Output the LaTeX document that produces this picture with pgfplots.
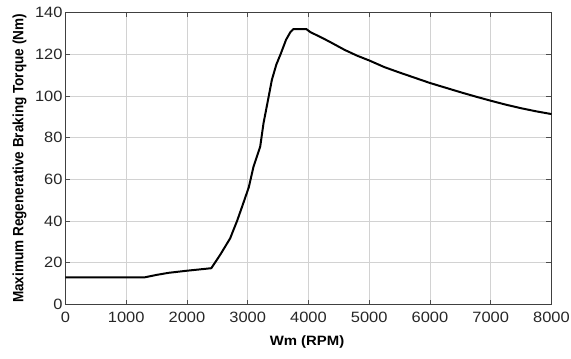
\documentclass[border=0pt]{standalone}
\usepackage{pgfplots}
\pgfplotsset{compat=1.18}
\usepackage{fontspec}
\setmainfont{Liberation Sans}
\newcommand{\wide}[1]{\scalebox{1.1}[1]{#1}}
\begin{document}
\begin{tikzpicture}
\useasboundingbox (-65.5bp,-54.5bp) rectangle (505.5bp,304.5bp);
\begin{axis}[
  at={(0,0)}, anchor=south west,
  scale only axis,
  width=486bp, height=292bp,
  xmin=0, xmax=8000, ymin=0, ymax=140,
  xtick={0,1000,...,8000}, ytick={0,20,...,140},
  scaled x ticks=false,
  xticklabel={\wide{\pgfmathprintnumber[1000 sep={},assume math mode=true]{\tick}}},
  yticklabel={\wide{\pgfmathprintnumber[assume math mode=true]{\tick}}},
  xticklabel style={yshift=-4bp},
  yticklabel style={xshift=0.5bp},
  tick label style={font=\fontsize{15}{17}\selectfont, text=black!85},
  grid=major,
  major grid style={gray!35, line width=0.6pt},
  tick align=inside,
  major tick length=5bp,
  tick style={black!70, line width=0.6pt},
  axis line style={black!75, line width=0.8pt},
  xlabel={\wide{\bfseries Wm (RPM)}},
  ylabel={\scalebox{1}[1.1]{\bfseries Maximum Regenerative Braking Torque (Nm)}},
  label style={font=\fontsize{13.6}{15}\selectfont\bfseries},
  xlabel style={at={(axis description cs:0.497,-0.130)}, anchor=center},
  ylabel style={at={(axis description cs:-0.0947,0.5)}, anchor=center},
]
\addplot[black, line width=2pt] coordinates {
(0,13) (1300,13) (1500,14.2) (1700,15.2) (2000,16.2) (2200,16.8) (2400,17.4)
(2550,24) (2710,31.7) (2826,40.2) (2920,48) (3017,56.2) (3095,66.1) (3205,75.7)
(3260,87) (3330,97.5) (3397,107.7) (3470,115) (3547,120.5) (3630,126.9) (3700,130.5) (3749,132)
(3967,132) (4030,130.6) (4200,128.2) (4340,126.1) (4600,122) (4800,119.3)
(5000,117) (5250,113.8) (5500,111.2) (5750,108.7) (6000,106.2) (6250,104)
(6500,101.8) (6750,99.7) (7000,97.7) (7250,95.8) (7500,94.1) (7750,92.6) (8000,91.3)
};
\end{axis}
\end{tikzpicture}
\end{document}
